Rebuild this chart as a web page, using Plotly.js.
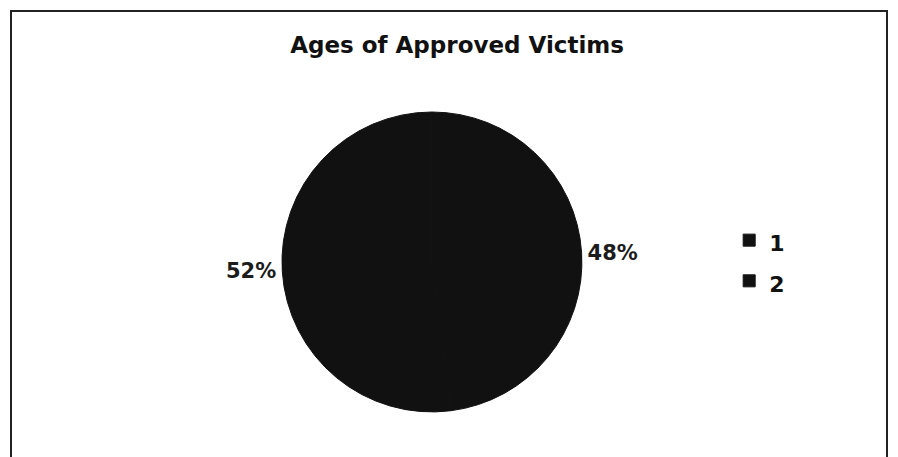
<!DOCTYPE html>
<html>
<head>
<meta charset="utf-8">
<script src="https://cdn.plot.ly/plotly-3.0.1.min.js"></script>
<style>html,body{margin:0;padding:0;background:#fff;} #chart{width:898px;height:457px;}</style>
</head>
<body>
<div id="chart"></div>
<script>
const chartTitle = "Ages of Approved Victims";
const categories = ["1", "2"];
const values = [48, 52];
const sliceColors = ["#111111", "#111111"];

const legendLabels = categories.map(c => '<span style="font-size:22px">' + c + '</span>');

const trace = {
  type: "pie",
  labels: legendLabels,
  values: values,
  sort: false,
  direction: "clockwise",
  rotation: 0,
  textinfo: "percent",
  textposition: "outside",
  hoverinfo: "percent",
  marker: { colors: sliceColors, line: { color: "#111111", width: 1 } },
  outsidetextfont: { family: "DejaVu Sans, sans-serif", size: 21, color: "#1c1c1c", weight: "bold" },
  domain: { x: [0.314, 0.648], y: [0.0985, 0.755] },
  automargin: false
};

const layout = {
  width: 898,
  height: 457,
  margin: { l: 0, r: 0, t: 0, b: 0 },
  paper_bgcolor: "#ffffff",
  title: {
    text: "<b>" + chartTitle + "</b>",
    font: { family: "DejaVu Sans, sans-serif", size: 23, color: "#111111" },
    x: 0.509, xanchor: "center",
    y: 0.9015, yanchor: "middle"
  },
  showlegend: true,
  legend: {
    x: 0.812, xanchor: "left",
    y: 0.530, yanchor: "top",
    font: { family: "DejaVu Sans, sans-serif", size: 29, color: "#111111", weight: "bold" },
    bgcolor: "rgba(0,0,0,0)"
  },
  shapes: [{
    type: "rect", xref: "paper", yref: "paper",
    x0: 11 / 898, x1: 887 / 898, y0: -0.1, y1: 1 - 11 / 457,
    line: { color: "#222222", width: 2 }, fillcolor: "rgba(0,0,0,0)"
  }]
};

Plotly.newPlot("chart", [trace], layout, { displayModeBar: false, staticPlot: true });
</script>
</body>
</html>
